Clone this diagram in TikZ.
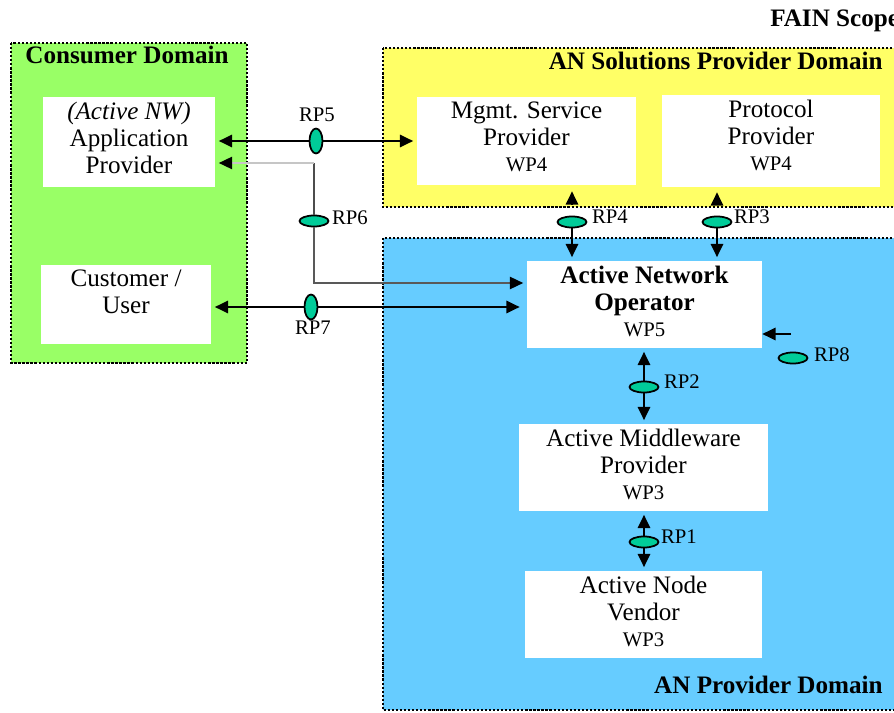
\documentclass[tikz,border=0pt]{standalone}
\usepackage{fontspec}
\setmainfont{Liberation Serif}
\usetikzlibrary{arrows.meta,positioning,shapes.geometric}

\definecolor{congreen}{HTML}{99FF66}
\definecolor{solyellow}{HTML}{FFFF66}
\definecolor{provblue}{HTML}{66CCFF}
\definecolor{rpgreen}{HTML}{00CC99}

\newcommand\mainfnt{\fontsize{14.3pt}{15.4pt}\selectfont}
\newcommand\wpfnt{\fontsize{11.8pt}{13pt}\selectfont}
\newcommand\rpfnt{\fontsize{11.8pt}{13pt}\selectfont}

\begin{document}
\begin{tikzpicture}[x=0.02cm, y=-0.02cm,
  dombox/.style={draw=black, line width=1.2pt, dash pattern=on 1.3pt off 1pt},
  box/.style={rectangle, fill=white, inner sep=0pt},
  boxtext/.style={label={[anchor=north, align=center, inner sep=3pt,
                  font=\mainfnt]north:{#1}}},
  rp/.style={ellipse, draw=black, line width=1pt, fill=rpgreen, inner sep=0pt,
             minimum width=0.58cm, minimum height=0.22cm},
  rpv/.style={rp, minimum width=0.26cm, minimum height=0.5cm},
  rplbl/.style={font=\rpfnt, inner sep=0pt},
  domtitle/.style={font=\mainfnt\bfseries, inner sep=0pt},
  arrow/.style={-{Triangle[length=7.5pt,width=7pt]}, line width=1pt, shorten >=2pt},
  thinarrow/.style={-{Triangle[length=7.5pt,width=7pt,color=black]}, line width=0.7pt,
                    shorten >=2pt}
]
  \useasboundingbox (0,0) rectangle (894,713);

  % domains
  \draw[dombox, fill=congreen] (11,43) rectangle (247,363);
  \draw[dombox, fill=solyellow] (383,48) rectangle (905,207);
  \draw[dombox, fill=provblue] (383,238) rectangle (905,710);

  \node[domtitle] (contitle) at (127,55) {Consumer Domain};
  \node[domtitle, anchor=east] (soltitle) at (883,61) {AN Solutions Provider Domain};
  \node[domtitle, anchor=east] (provtitle) at (883,685) {AN Provider Domain};
  \node[domtitle, anchor=base west] (fain) at (770,27) {FAIN Scope};

  % roles
  \node[box, minimum width=3.44cm, minimum height=1.8cm,
        boxtext={\textit{(Active NW)}\\Application\\Provider}] (app) at (129,142) {};
  \node[box, minimum width=3.4cm, minimum height=1.58cm,
        boxtext={Customer /\\User}] (cust) at (126,304.5) {};
  \node[box, minimum width=4.38cm, minimum height=1.76cm,
        boxtext={Mgmt. Service\\Provider\\[-1pt]\wpfnt WP4}] (mgmt) at (526.5,141) {};
  \node[box, minimum width=4.36cm, minimum height=1.84cm,
        boxtext={Protocol\\Provider\\[-1pt]\wpfnt WP4}] (proto) at (771,141) {};
  \node[box, minimum width=4.7cm, minimum height=1.74cm,
        boxtext={\textbf{Active Network}\\\textbf{Operator}\\[-1pt]\wpfnt WP5}] (ano) at (644.5,304.5) {};
  \node[box, minimum width=4.98cm, minimum height=1.74cm,
        boxtext={Active Middleware\\Provider\\[-1pt]\wpfnt WP3}] (mid) at (643.5,467.5) {};
  \node[box, minimum width=4.74cm, minimum height=1.74cm,
        boxtext={Active Node\\Vendor\\[-1pt]\wpfnt WP3}] (vend) at (643.5,614.5) {};

  % reference points
  \node[rpv] (rp5) at (316,141) {};
  \node[rp]  (rp6) at (314,221) {};
  \node[rpv] (rp7) at (311,307) {};
  \node[rp]  (rp4) at (572,222) {};
  \node[rp]  (rp3) at (717,222) {};
  \node[rp]  (rp2) at (644,387) {};
  \node[rp]  (rp1) at (644,542) {};
  \node[rp]  (rp8) at (793,358) {};

  \node[rplbl] (rp5l) at (317,115) {RP5};
  \node[rplbl] (rp6l) at (350,218) {RP6};
  \node[rplbl] (rp7l) at (313,328) {RP7};
  \node[rplbl] (rp4l) at (610,217) {RP4};
  \node[rplbl] (rp3l) at (752,217) {RP3};
  \node[rplbl] (rp2l) at (682,382) {RP2};
  \node[rplbl] (rp1l) at (679,537) {RP1};
  \node[rplbl] (rp8l) at (832,355) {RP8};

  \coordinate (rp6up) at (314,163);
  \coordinate (rp6dn) at (314,283);
  \coordinate (rp8in) at (791,334);

  % connectors
  \draw[arrow] (rp5) -- (app.east |- rp5);
  \draw[arrow] (rp5) -- (mgmt.west |- rp5);
  \draw[line width=0.7pt, draw=gray!60!black] (rp6) -- (rp6up);
  \draw[thinarrow, draw=gray!45] (rp6up) -- (app.east |- rp6up);
  \draw[thinarrow, draw=gray!70!black] (rp6) |- (ano.west |- rp6dn);
  \draw[arrow] (rp7) -- (cust.east |- rp7);
  \draw[arrow, shorten >=4pt] (rp7) -- (ano.west |- rp7);
  \draw[arrow, shorten <=0.24cm, shorten >=0.12cm] (rp4) -- (rp4 |- mgmt.south);
  \draw[arrow, shorten <=0.24cm, shorten >=0.1cm] (rp3) -- (rp3 |- proto.south);
  \draw[arrow] (rp4) -- (rp4 |- ano.north);
  \draw[arrow] (rp3) -- (rp3 |- ano.north);
  \draw[arrow] (rp2) -- (rp2 |- ano.south);
  \draw[arrow] (rp2) -- (rp2 |- mid.north);
  \draw[arrow] (rp1) -- (rp1 |- mid.south);
  \draw[arrow] (rp1) -- (rp1 |- vend.north);
  \draw[arrow, shorten >=0pt] (rp8in) -- (ano.east |- rp8in);
\end{tikzpicture}
\end{document}
